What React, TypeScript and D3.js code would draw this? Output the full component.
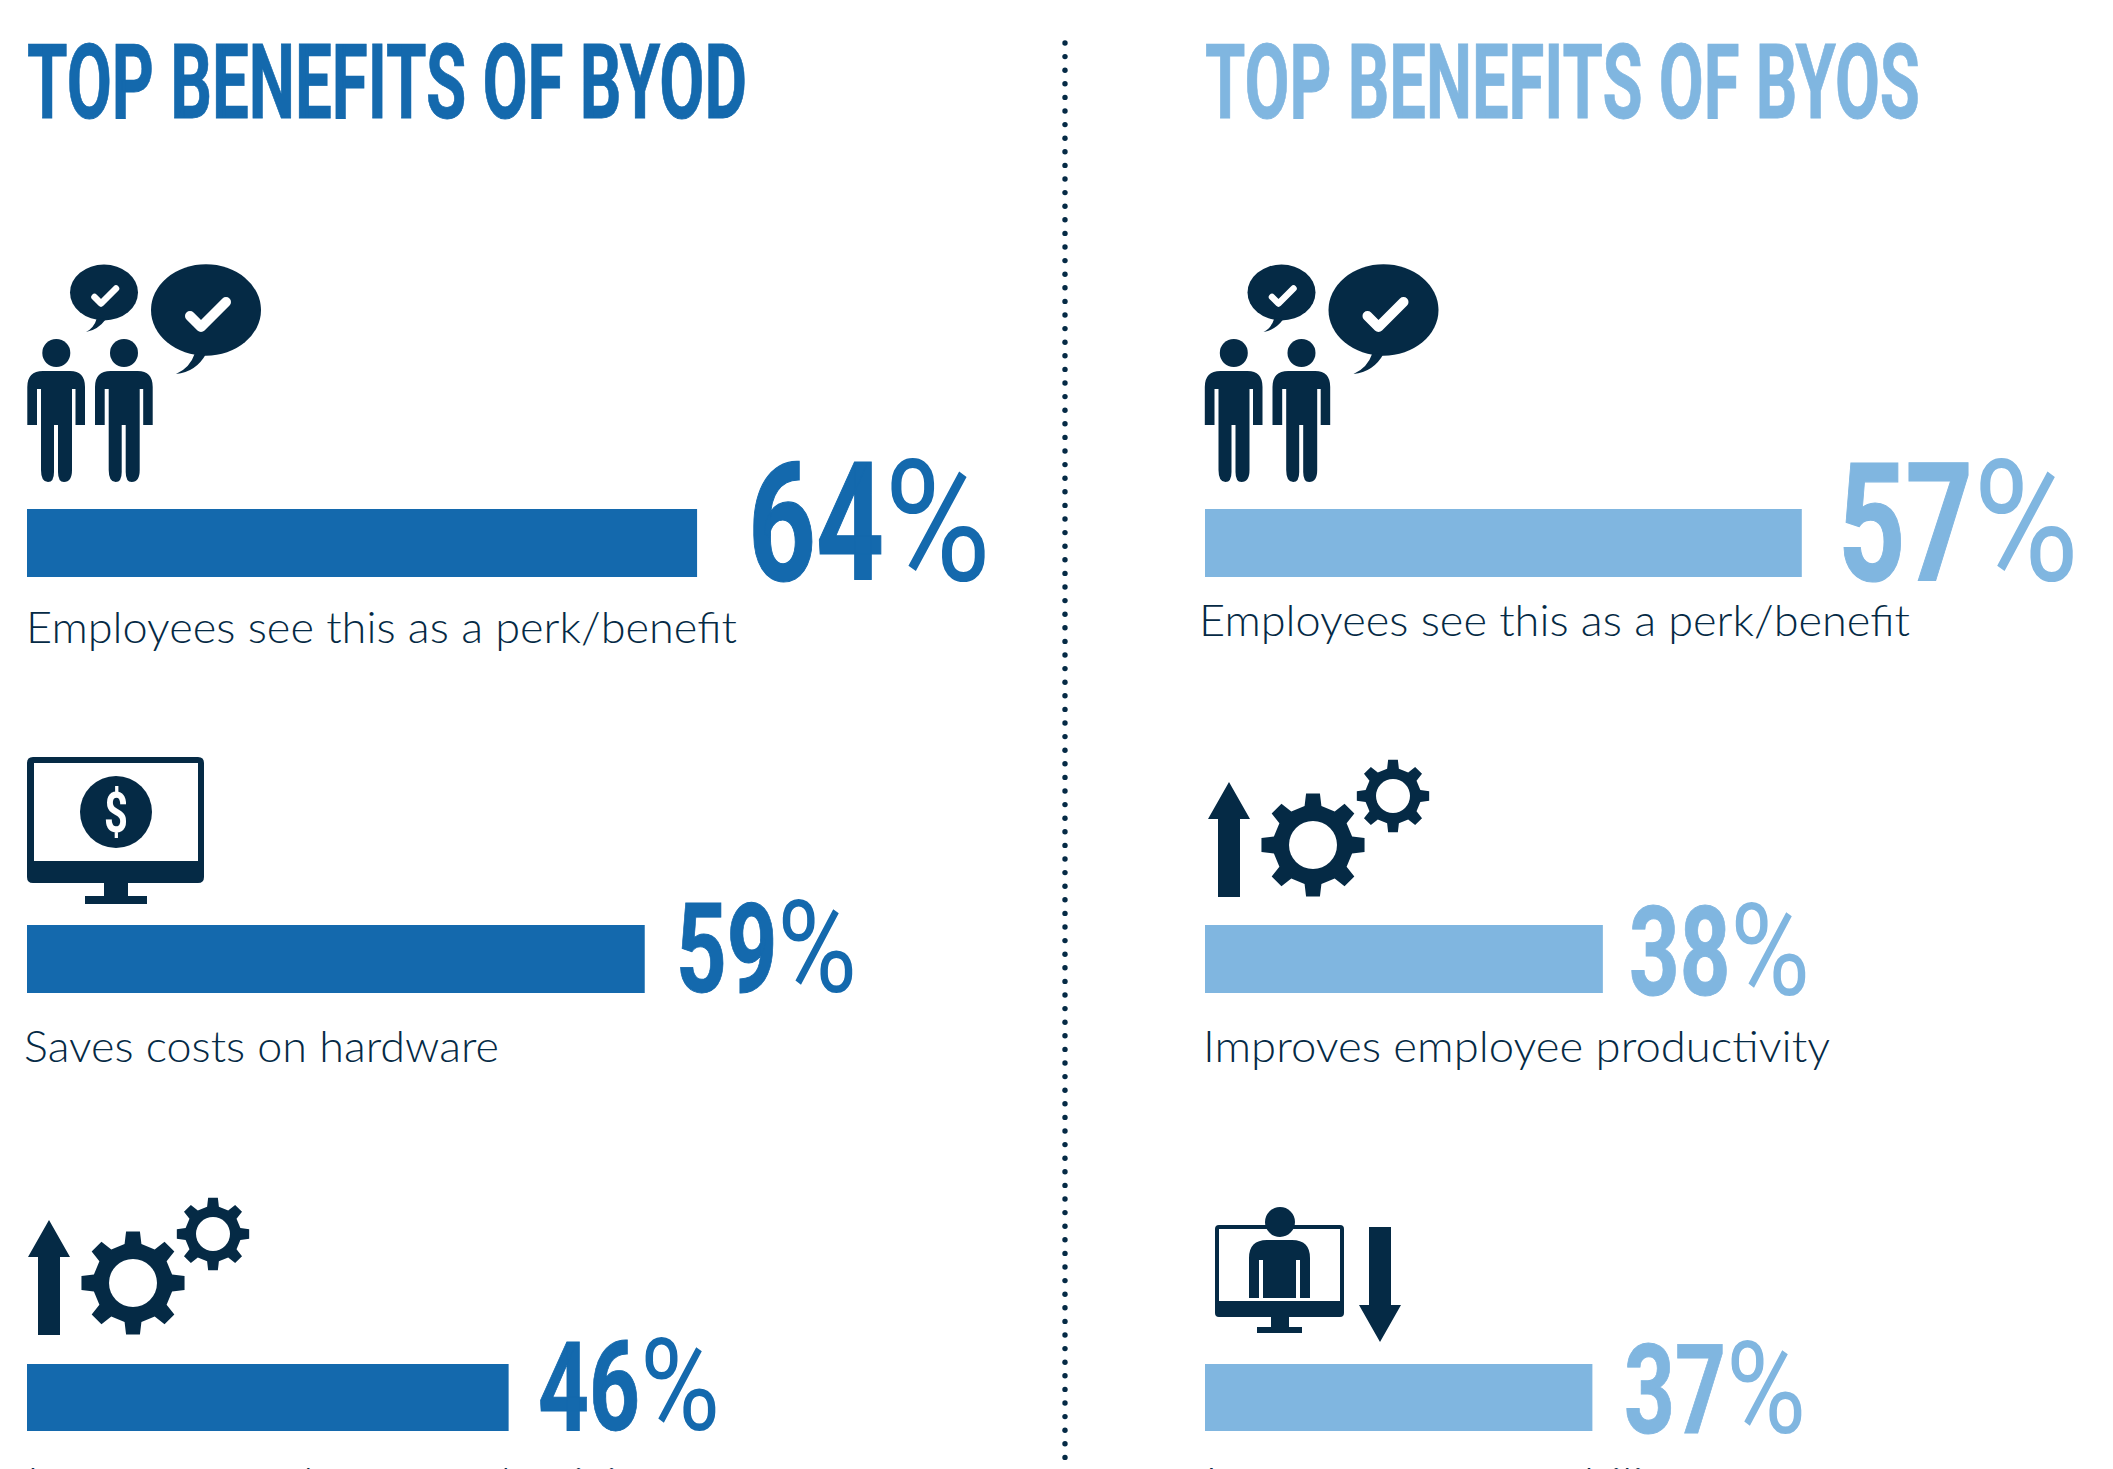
import React from "react";
import * as d3 from "d3";

const leftTitle = "TOP BENEFITS OF BYOD";
const rightTitle = "TOP BENEFITS OF BYOS";

const leftLabels = ["Employees see this as a perk/benefit", "Saves costs on hardware", "Improves employee productivity"];
const leftValues = [64, 59, 46];
const rightLabels = ["Employees see this as a perk/benefit", "Improves employee productivity", "Increases user mobility"];
const rightValues = [57, 38, 37];

const BLUE = "#1469ad";
const LIGHT = "#80b6e0";
const NAVY = "#052a45";
const HEAD = "'Liberation Sans Narrow', 'Roboto', sans-serif";
const BODY = "Lato, 'Noto Sans', sans-serif";

const x = d3.scaleLinear().domain([0, 100]).range([0, 1047]);

// row layout, pixels from the top of the picture
const rowBars = [{ y0: 509, y1: 577 }, { y0: 925, y1: 993 }, { y0: 1364, y1: 1431 }];

function gearPath(r0: number, r1: number, teeth: number) {
  const pts: [number, number][] = [];
  const step = (Math.PI * 2) / teeth;
  for (let i = 0; i < teeth; i++) {
    const a = i * step;
    const w = step * 0.17;
    const w2 = step * 0.27;
    pts.push([a - w2, r0], [a - w, r1], [a + w, r1], [a + w2, r0]);
  }
  return d3.lineRadial().curve(d3.curveLinearClosed)(pts);
}

const Gears = ({ dx, dy }: { dx: number; dy: number }) => {
  const big = d3.arc()({ innerRadius: 0, outerRadius: 24, startAngle: 0, endAngle: Math.PI * 2 });
  const small = d3.arc()({ innerRadius: 0, outerRadius: 17, startAngle: 0, endAngle: Math.PI * 2 });
  return (
    <g transform={`translate(${dx},${dy})`} fill={NAVY}>
      <path d="M1229 782L1250 819H1240V897H1218V819H1208Z" />
      <g transform="translate(1313,845)">
        <path d={gearPath(40, 52, 8) as string} />
        <path d={big as string} fill="#fff" />
      </g>
      <g transform="translate(1393,796)">
        <path d={gearPath(28, 36.5, 8) as string} />
        <path d={small as string} fill="#fff" />
      </g>
    </g>
  );
};

const Person = ({ dx }: { dx: number }) => (
  <g transform={`translate(${dx},0)`}>
    <circle cx={56.3} cy={353} r={14} />
    <path d="M27.3 425V387Q27.3 371 43 371H70Q85 371 85 387V425H75.5V389H72V470Q72 482 64 482Q58 482 58 472V425H54V472Q54 482 48 482Q41 482 41 470V389H37V425Z" />
  </g>
);

const People = ({ dx }: { dx: number }) => (
  <g transform={`translate(${dx},0)`} fill={NAVY}>
    <Person dx={0} />
    <Person dx={67.7} />
    <ellipse cx={104} cy={292.5} rx={34} ry={28} />
    <path d="M97 318Q94 328 86 332Q98 330 106 319Z" />
    <ellipse cx={206} cy={310} rx={55} ry={45.7} />
    <path d="M195 353Q190 368 176 374Q196 372 206 354Z" />
    <path d="M94.5 297L101 303.5L116 288.5" fill="none" stroke="#fff" strokeWidth={6.5} strokeLinecap="round" strokeLinejoin="round" />
    <path d="M190 316L201 327L226 302" fill="none" stroke="#fff" strokeWidth={10} strokeLinecap="round" strokeLinejoin="round" />
  </g>
);

const DollarMonitor = () => (
  <g fill={NAVY}>
    <path fillRule="evenodd" d="M33 757H198Q204 757 204 763V877Q204 883 198 883H128V896H147V904H85V896H104V883H33Q27 883 27 877V763Q27 757 33 757ZM34 763V861H198V763Z" />
    <circle cx={116} cy={812} r={36} />
    <text x={104} y={832} fontFamily={HEAD} fontWeight={700} fontSize={56} fill="#fff" textLength={24} lengthAdjust="spacingAndGlyphs">$</text>
  </g>
);

const PersonMonitor = () => (
  <g fill={NAVY}>
    <path fillRule="evenodd" d="M1219 1225H1340Q1344 1225 1344 1229V1313Q1344 1317 1340 1317H1289V1327H1302V1333H1257V1327H1271V1317H1219Q1215 1317 1215 1313V1229Q1215 1225 1219 1225ZM1219 1229V1301H1340V1229Z" />
    <circle cx={1280} cy={1222} r={15} />
    <path d="M1249 1298V1258Q1249 1240 1267 1240H1292Q1310 1240 1310 1258V1298H1300V1260H1296V1298H1263V1260H1259V1298Z" />
    <path d="M1369 1227H1391V1305H1401L1380 1342L1359 1305H1369Z" />
  </g>
);

type Side = { titleText: string; titleX: number; titleW: number; color: string; barX: number };

// the digits are heavy and the percent sign is lighter, as in the poster lettering
const BigValue = ({ v, x0, w, y, h, color }: { v: number; x0: number; w: number; y: number; h: number; color: string }) => {
  const fs = h / 0.729;
  return (
    <text x={x0} y={y} fill={color} fontFamily={HEAD}>
      <tspan fontSize={fs} fontWeight={700} stroke={color} strokeWidth={h / 100} textLength={w * 0.56} lengthAdjust="spacingAndGlyphs">{v}</tspan>
      <tspan fontSize={fs * 1.03} textLength={w * 0.44} lengthAdjust="spacingAndGlyphs">%</tspan>
    </text>
  );
};

const Title = ({ side }: { side: Side }) => (
  <text x={side.titleX} y={118} fill={side.color} stroke={side.color} strokeWidth={0.8} fontFamily={HEAD} fontWeight={700} fontSize={103} textLength={side.titleW} lengthAdjust="spacingAndGlyphs">
    {side.titleText}
  </text>
);

const leftSide: Side = { titleText: leftTitle, titleX: 27, titleW: 720, color: BLUE, barX: 27 };
const rightSide: Side = { titleText: rightTitle, titleX: 1205, titleW: 715, color: LIGHT, barX: 1205 };

// big number position per row: left edge, width, baseline, digit height
const leftNums = [{ x0: 748, w: 243, y: 580, h: 120 }, { x0: 676, w: 181, y: 992, h: 90 }, { x0: 538, w: 182, y: 1430, h: 90 }];
const rightNums = [{ x0: 1838, w: 241, y: 580, h: 120 }, { x0: 1629, w: 181, y: 995, h: 90 }, { x0: 1624, w: 182, y: 1433, h: 90 }];
const leftText = [{ x: 26, w: 711, y: 643 }, { x: 24, w: 475, y: 1062 }, { x: 27, w: 628, y: 1499 }];
const rightText = [{ x: 1199, w: 711, y: 636 }, { x: 1203, w: 627, y: 1062 }, { x: 1205, w: 480, y: 1499 }];

const dots = d3.range(43, 1469, 13.6);

export default function App() {
  return (
    <svg width={2113} height={1469} viewBox="0 0 2113 1469" style={{ position: "absolute", left: 0, top: 0, background: "#fff" }}>
      <Title side={leftSide} />
      <Title side={rightSide} />
      {dots.map((d) => (
        <circle key={d} cx={1065} cy={d} r={2.7} fill={NAVY} />
      ))}
      <People dx={0} />
      <People dx={1177.5} />
      <DollarMonitor />
      <Gears dx={0} dy={0} />
      <Gears dx={-1180} dy={438} />
      <PersonMonitor />
      {leftValues.map((v, i) => (
        <g key={`l${i}`}>
          <rect x={leftSide.barX} y={rowBars[i].y0} width={x(v)} height={rowBars[i].y1 - rowBars[i].y0} fill={BLUE} />
          <BigValue v={v} {...leftNums[i]} color={BLUE} />
          <text x={leftText[i].x} y={leftText[i].y} fill={NAVY} fontFamily={BODY} fontWeight={300} fontSize={43} textLength={leftText[i].w} lengthAdjust="spacingAndGlyphs">{leftLabels[i]}</text>
        </g>
      ))}
      {rightValues.map((v, i) => (
        <g key={`r${i}`}>
          <rect x={rightSide.barX} y={rowBars[i].y0} width={x(v)} height={rowBars[i].y1 - rowBars[i].y0} fill={LIGHT} />
          <BigValue v={v} {...rightNums[i]} color={LIGHT} />
          <text x={rightText[i].x} y={rightText[i].y} fill={NAVY} fontFamily={BODY} fontWeight={300} fontSize={43} textLength={rightText[i].w} lengthAdjust="spacingAndGlyphs">{rightLabels[i]}</text>
        </g>
      ))}
    </svg>
  );
}
